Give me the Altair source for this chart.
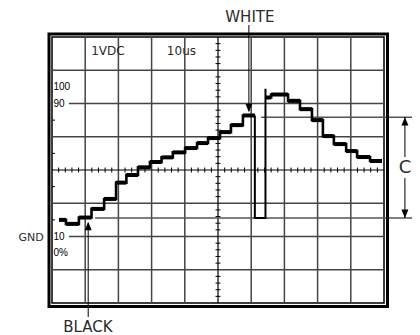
import altair as alt
import pandas as pd

W, H = 332, 266

# ---- graticule (10 us/div horizontally, 1 V/div vertically) ----
grid_t = [10, 20, 30, 40, 60, 70, 80, 90]
grid_v_full = [-3, -1, 1, 3]
grid_v_short = [-2, 2]
minor_t = [2 * i for i in range(1, 50) if i % 5 != 0]
minor_v = [round(-4 + 0.2 * i, 1) for i in range(1, 40) if i % 5 != 0]
edge_tick_v = [-1.5, -0.5, 0.5, 1.5]

# ---- staircase waveform (step start time, level) ----
left_t = [2.1, 4.2, 8.1, 11.9, 15.7, 19.3, 22.4, 25.9, 29.5, 33.0, 36.4,
          40.1, 43.7, 47.0, 50.6, 53.9, 57.5]
left_v = [-1.50, -1.62, -1.43, -1.17, -0.87, -0.38, -0.15, 0.08, 0.24, 0.38,
          0.53, 0.66, 0.81, 0.96, 1.14, 1.35, 1.64]
left_end = 61.1

pulse_t = [61.1, 61.1, 64.3, 64.3]
pulse_v = [1.64, -1.44, -1.44, 2.44]

right_t = [64.3, 66.0, 71.1, 74.7, 78.3, 81.6, 84.9, 88.6, 91.9, 95.8]
right_v = [2.18, 2.27, 2.08, 1.83, 1.50, 1.02, 0.78, 0.57, 0.39, 0.27]
right_end = 99.4

# ---- reference lines (white level / black level) ----
ref_v = [1.59, -1.44]
ref_t0 = [63.0, 13.0]
ref_t1 = [110.0, 110.0]

# ---- arrows ----
arrow_t = [59.3, 10.9, 106.3, 106.3]
arrow_v0 = [4.36, -4.42, 1.59, -0.24]
arrow_v1 = [1.78, -1.60, 0.39, -1.44]
head_t = [59.3, 10.9, 106.3, 106.3]
head_v = [1.74, -1.56, 1.59, -1.44]
head_dir = ["down", "up", "up", "down"]

# ---- texts ----
scale_text = ["100", "90", "10", "0%"]
scale_text_v = [2.5, 2.0, -2.0, -2.5]
setting_text = ["1VDC", "10us"]
setting_t = [11.8, 34.6]
setting_v = [3.59, 3.59]
callout_text = ["WHITE", "BLACK", "GND", "C"]
callout_t = [59.6, 10.8, -6.3, 106.3]
callout_v = [4.59, -4.72, -2.05, 0.06]
callout_size = [15, 15, 11, 18]

xs = alt.Scale(domain=[0, 100], nice=False, zero=False)
ys = alt.Scale(domain=[-4, 4], nice=False, zero=False)


def X(f):
    return alt.X(f, type="quantitative", scale=xs, axis=None)


def X2(f):
    return alt.X2(f)


def Y(f):
    return alt.Y(f, type="quantitative", scale=ys, axis=None)


layers = []

# grid
layers.append(alt.Chart(pd.DataFrame({"t": grid_t})).mark_rule(
    color="#444444", strokeWidth=1.5).encode(x=X("t")))
gh = pd.DataFrame({"v": grid_v_full + grid_v_short,
                   "t0": [0] * len(grid_v_full) + [5.1] * len(grid_v_short),
                   "t1": [100] * (len(grid_v_full) + len(grid_v_short))})
layers.append(alt.Chart(gh).mark_rule(color="#444444", strokeWidth=1.5).encode(
    y=Y("v"), x=X("t0"), x2=X2("t1")))

# centre axes
layers.append(alt.Chart(pd.DataFrame({"t": [50]})).mark_rule(
    color="black", strokeWidth=1.2).encode(x=X("t")))
layers.append(alt.Chart(pd.DataFrame({"v": [0]})).mark_rule(
    color="black", strokeWidth=1.2).encode(y=Y("v")))
layers.append(alt.Chart(pd.DataFrame({"t": minor_t, "v": [0] * len(minor_t)})).mark_tick(
    orient="vertical", size=5, thickness=1, color="black", opacity=1).encode(x=X("t"), y=Y("v")))
layers.append(alt.Chart(pd.DataFrame({"t": [50] * len(minor_v), "v": minor_v})).mark_tick(
    orient="horizontal", size=5, thickness=1, color="black", opacity=1).encode(x=X("t"), y=Y("v")))
layers.append(alt.Chart(pd.DataFrame({"v": edge_tick_v, "t0": [0] * 4, "t1": [0.9] * 4})).mark_rule(
    color="black", strokeWidth=1).encode(y=Y("v"), x=X("t0"), x2=X2("t1")))

# reference lines
layers.append(alt.Chart(pd.DataFrame({"v": ref_v, "t0": ref_t0, "t1": ref_t1})).mark_rule(
    color="#555555", strokeWidth=1.5, clip=False).encode(y=Y("v"), x=X("t0"), x2=X2("t1")))

# outer frame
layers.append(alt.Chart(pd.DataFrame({"a": [0]})).mark_rect(
    fillOpacity=0, stroke="black", strokeWidth=3).encode(
    x=alt.value(-3), x2=alt.value(W + 3.5), y=alt.value(-3), y2=alt.value(H + 3.5)))

# waveform: staircase
for ts, vs, end in [(left_t, left_v, left_end), (right_t, right_v, right_end)]:
    seg = pd.DataFrame({"t0": ts, "t1": ts[1:] + [end], "v": vs})
    layers.append(alt.Chart(seg).mark_rule(color="black", strokeWidth=4, strokeCap="butt").encode(
        x=X("t0"), x2=X2("t1"), y=Y("v")))
    pts = pd.DataFrame({"t": ts + [end], "v": vs + [vs[-1]], "i": list(range(len(ts) + 1))})
    layers.append(alt.Chart(pts).mark_line(color="black", strokeWidth=2.6, interpolate="step-after").encode(
        x=X("t"), y=Y("v"), order=alt.Order("i:Q")))

# waveform: pulse
layers.append(alt.Chart(pd.DataFrame({"t": pulse_t, "v": pulse_v, "i": [0, 1, 2, 3]})).mark_line(
    color="black", strokeWidth=2, strokeJoin="miter").encode(
    x=X("t"), y=Y("v"), order=alt.Order("i:Q")))

# arrows
layers.append(alt.Chart(pd.DataFrame({"t": arrow_t, "v0": arrow_v0, "v1": arrow_v1})).mark_rule(
    color="black", strokeWidth=1, clip=False).encode(x=X("t"), y=Y("v0"), y2=alt.Y2("v1")))
heads = pd.DataFrame({"t": head_t, "v": head_v, "d": head_dir})
for d, path in [("down", "M0,0L-1,-2.4L1,-2.4Z"), ("up", "M0,0L-1,2.4L1,2.4Z")]:
    layers.append(alt.Chart(heads[heads.d == d]).mark_point(
        shape=path, size=49, filled=True, color="black", opacity=1, clip=False).encode(
        x=X("t"), y=Y("v")))

# texts
layers.append(alt.Chart(pd.DataFrame({"s": scale_text, "v": scale_text_v, "t": [0.45] * 4})).mark_text(
    align="left", baseline="middle", font="Liberation Sans", fontSize=10, color="black").encode(
    x=X("t"), y=Y("v"), text="s"))
layers.append(alt.Chart(pd.DataFrame({"s": setting_text, "v": setting_v, "t": setting_t})).mark_text(
    align="left", baseline="middle", font="DejaVu Sans", fontSize=12, color="#2a2a2a").encode(
    x=X("t"), y=Y("v"), text="s"))
layers.append(alt.Chart(pd.DataFrame({"s": callout_text, "v": callout_v, "t": callout_t,
                                      "z": callout_size})).mark_text(
    align="center", baseline="middle", font="DejaVu Sans", color="#2a2a2a", clip=False).encode(
    x=X("t"), y=Y("v"), text="s", size=alt.Size("z:Q", scale=None, legend=None)))

chart = alt.layer(*layers).properties(
    width=W, height=H,
    padding={"left": 44, "top": 29, "right": 28, "bottom": 32},
    autosize=alt.AutoSizeParams(type="none"),
).configure_view(stroke="black", strokeWidth=1.5)

chart.save("out.html", embed_options={"renderer": "svg", "actions": False})
